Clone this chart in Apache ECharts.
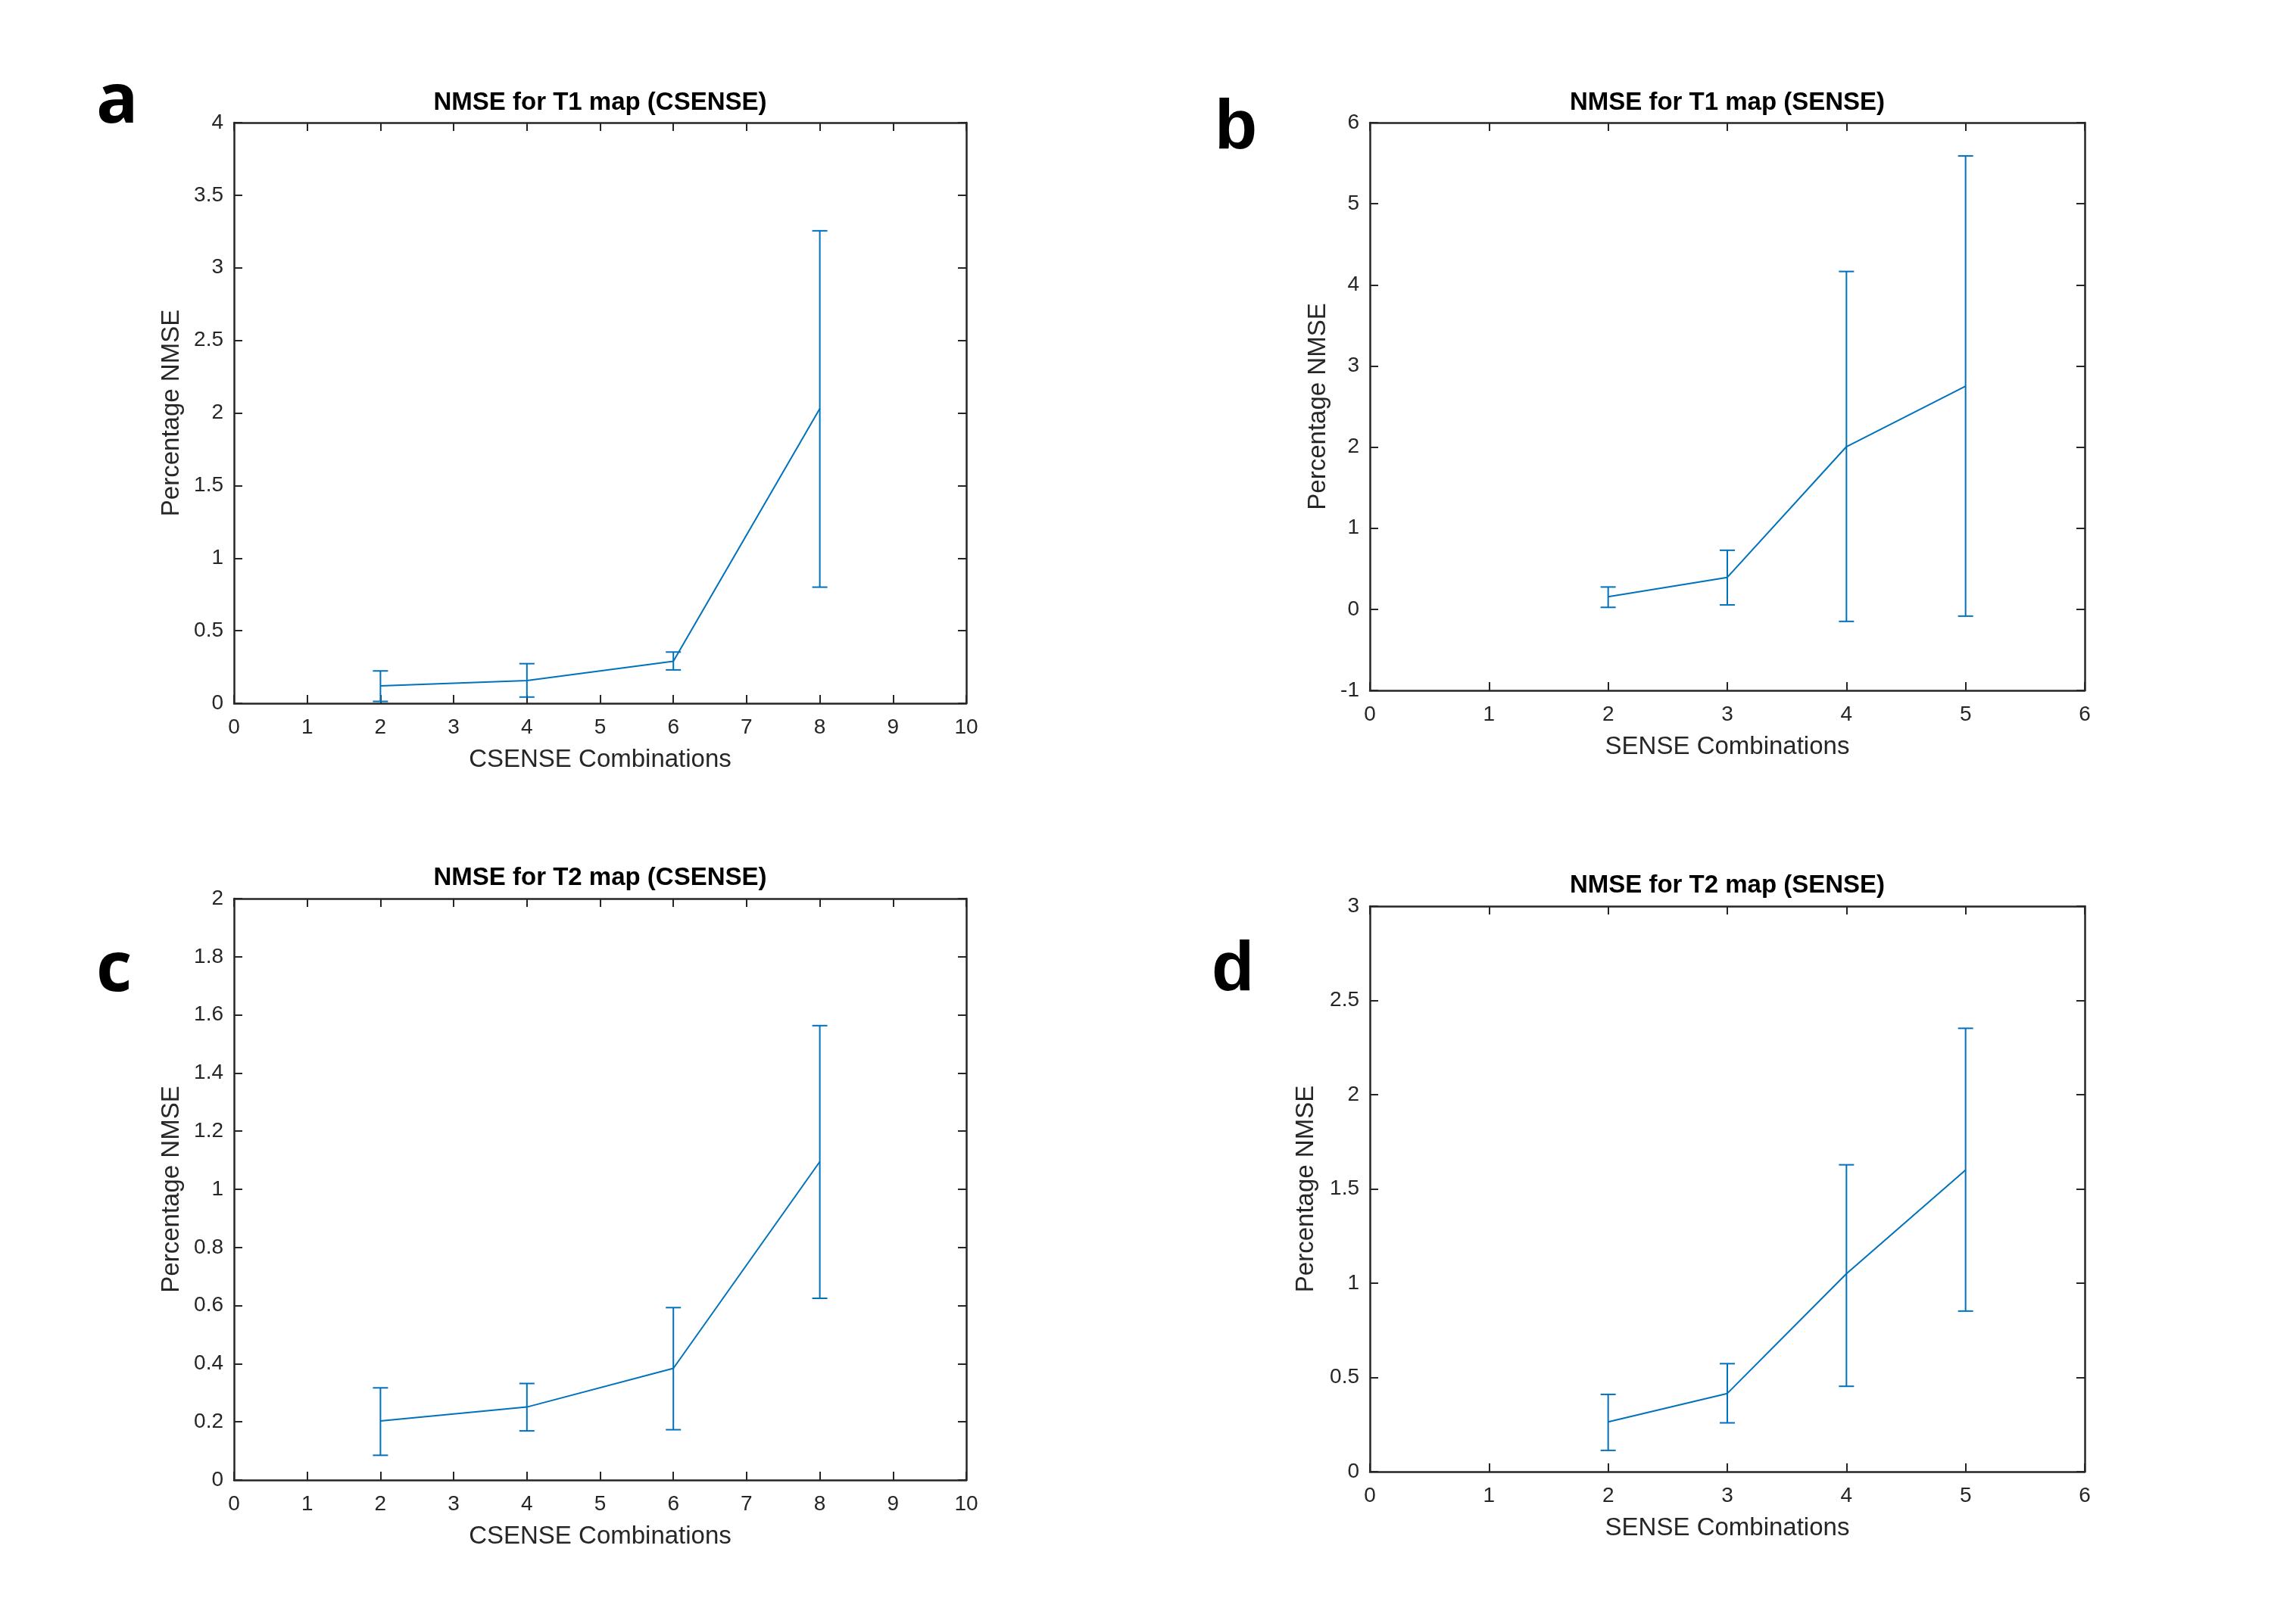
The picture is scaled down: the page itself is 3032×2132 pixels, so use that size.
<!DOCTYPE html>
<html>
<head>
<meta charset="utf-8">
<script src="https://cdn.jsdelivr.net/npm/echarts@6/dist/echarts.min.js"></script>
<style>
html,body{margin:0;padding:0;background:#fff;}
#chart{width:3032px;height:2132px;}
</style>
</head>
<body>
<div id="chart"></div>
<script>
// ---- data ----
const csenseX = [2, 4, 6, 8];
const senseX = [2, 3, 4, 5];

const t1CsenseMean = [0.12, 0.156, 0.29, 2.03];
const t1CsenseLow  = [0.013, 0.043, 0.23, 0.80];
const t1CsenseHigh = [0.223, 0.273, 0.353, 3.255];

const t1SenseMean = [0.155, 0.394, 2.005, 2.75];
const t1SenseLow  = [0.024, 0.054, -0.149, -0.084];
const t1SenseHigh = [0.275, 0.728, 4.165, 5.59];

const t2CsenseMean = [0.203, 0.251, 0.384, 1.095];
const t2CsenseLow  = [0.085, 0.169, 0.173, 0.625];
const t2CsenseHigh = [0.317, 0.332, 0.593, 1.563];

const t2SenseMean = [0.264, 0.415, 1.05, 1.60];
const t2SenseLow  = [0.113, 0.259, 0.453, 0.852];
const t2SenseHigh = [0.41, 0.573, 1.628, 2.352];

const panelTitles = ['NMSE for T1 map (CSENSE)', 'NMSE for T1 map (SENSE)', 'NMSE for T2 map (CSENSE)', 'NMSE for T2 map (SENSE)'];
const panelLetters = ['a', 'b', 'c', 'd'];
const xNames = ['CSENSE Combinations', 'SENSE Combinations', 'CSENSE Combinations', 'SENSE Combinations'];
const yName = 'Percentage NMSE';
const xRanges = [[0, 10, 1], [0, 6, 1], [0, 10, 1], [0, 6, 1]];
const yRanges = [[0, 4, 0.5], [-1, 6, 1], [0, 2, 0.2], [0, 3, 0.5]];

// ---- layout (styles) ----
const grids = [
  {left: 309, top: 162, width: 967, height: 767},
  {left: 1809, top: 162, width: 944, height: 750},
  {left: 309, top: 1187, width: 967, height: 768},
  {left: 1809, top: 1197, width: 944, height: 747}
];
const titleY = [136, 136, 1160, 1170];
const yNameGaps = [66, 52, 66, 68];
const letterPos = [[127, 136, 'Open Sans'], [1604, 171, 'Liberation Sans'], [127, 1283, 'Open Sans'], [1600, 1283, 'Liberation Sans']];

const panels = [
  {x: csenseX, m: t1CsenseMean, lo: t1CsenseLow, hi: t1CsenseHigh},
  {x: senseX, m: t1SenseMean, lo: t1SenseLow, hi: t1SenseHigh},
  {x: csenseX, m: t2CsenseMean, lo: t2CsenseLow, hi: t2CsenseHigh},
  {x: senseX, m: t2SenseMean, lo: t2SenseLow, hi: t2SenseHigh}
];

const AX = '#262626';
const BLUE = '#0072BD';
const FONT = 'Liberation Sans, Arial, Helvetica, sans-serif';

const option = {
  backgroundColor: '#ffffff',
  animation: false,
  title: [],
  grid: [],
  xAxis: [],
  yAxis: [],
  series: [],
  graphic: []
};

panels.forEach((p, i) => {
  const g = grids[i];
  option.grid.push({left: g.left, top: g.top, width: g.width, height: g.height, containLabel: false});
  option.title.push({
    text: panelTitles[i],
    left: g.left + g.width / 2,
    top: titleY[i] - 17,
    textAlign: 'center',
    padding: 0,
    textStyle: {fontFamily: FONT, fontSize: 33, fontWeight: 'bold', color: '#000'}
  });
  const tickCommon = {show: true, inside: true, length: 11, lineStyle: {color: AX, width: 2}};
  const lineCommon = {show: true, onZero: false, lineStyle: {color: AX, width: 2.5}};
  // bottom x axis
  option.xAxis.push({
    type: 'value', gridIndex: i, position: 'bottom',
    min: xRanges[i][0], max: xRanges[i][1], interval: xRanges[i][2],
    name: xNames[i], nameLocation: 'middle', nameGap: 58,
    nameTextStyle: {fontFamily: FONT, fontSize: 33, color: AX},
    axisLine: lineCommon, axisTick: tickCommon,
    axisLabel: {fontFamily: FONT, fontSize: 28, color: AX, margin: 18},
    splitLine: {show: false}
  });
  // top mirror x axis
  option.xAxis.push({
    type: 'value', gridIndex: i, position: 'top',
    min: xRanges[i][0], max: xRanges[i][1], interval: xRanges[i][2],
    axisLine: lineCommon, axisTick: tickCommon,
    axisLabel: {show: false}, splitLine: {show: false}
  });
  // left y axis
  option.yAxis.push({
    type: 'value', gridIndex: i, position: 'left',
    min: yRanges[i][0], max: yRanges[i][1], interval: yRanges[i][2],
    name: yName, nameLocation: 'middle', nameGap: yNameGaps[i], nameRotate: 90,
    nameTextStyle: {fontFamily: FONT, fontSize: 33, color: AX},
    axisLine: lineCommon, axisTick: tickCommon,
    axisLabel: {fontFamily: FONT, fontSize: 28, color: AX, margin: 14},
    splitLine: {show: false}
  });
  // right mirror y axis
  option.yAxis.push({
    type: 'value', gridIndex: i, position: 'right',
    min: yRanges[i][0], max: yRanges[i][1], interval: yRanges[i][2],
    axisLine: lineCommon, axisTick: tickCommon,
    axisLabel: {show: false}, splitLine: {show: false}
  });

  const lineData = p.x.map((x, k) => [x, p.m[k]]);
  const errData = p.x.map((x, k) => [x, p.lo[k], p.hi[k]]);

  option.series.push({
    type: 'line', xAxisIndex: 2 * i, yAxisIndex: 2 * i,
    data: lineData, showSymbol: false, symbol: 'none',
    lineStyle: {color: BLUE, width: 2}, z: 3
  });
  option.series.push({
    type: 'custom', xAxisIndex: 2 * i, yAxisIndex: 2 * i,
    data: errData,
    encode: {x: 0, y: [1, 2]},
    z: 4,
    renderItem: function (params, api) {
      const x = api.value(0);
      const lo = api.coord([x, api.value(1)]);
      const hi = api.coord([x, api.value(2)]);
      const hw = 10;
      const st = {stroke: BLUE, lineWidth: 2, fill: null};
      return {
        type: 'group',
        children: [
          {type: 'line', shape: {x1: lo[0], y1: lo[1], x2: hi[0], y2: hi[1]}, style: st},
          {type: 'line', shape: {x1: lo[0] - hw, y1: lo[1], x2: lo[0] + hw, y2: lo[1]}, style: st},
          {type: 'line', shape: {x1: hi[0] - hw, y1: hi[1], x2: hi[0] + hw, y2: hi[1]}, style: st}
        ]
      };
    }
  });

  option.graphic.push({
    type: 'text', left: letterPos[i][0], top: letterPos[i][1] - 46,
    style: {text: panelLetters[i], font: 'bold 92px "' + letterPos[i][2] + '", Arial, sans-serif', fill: '#000'}
  });
});

const chart = echarts.init(document.getElementById('chart'), null, {renderer: 'canvas'});
chart.setOption(option);
</script>
</body>
</html>
